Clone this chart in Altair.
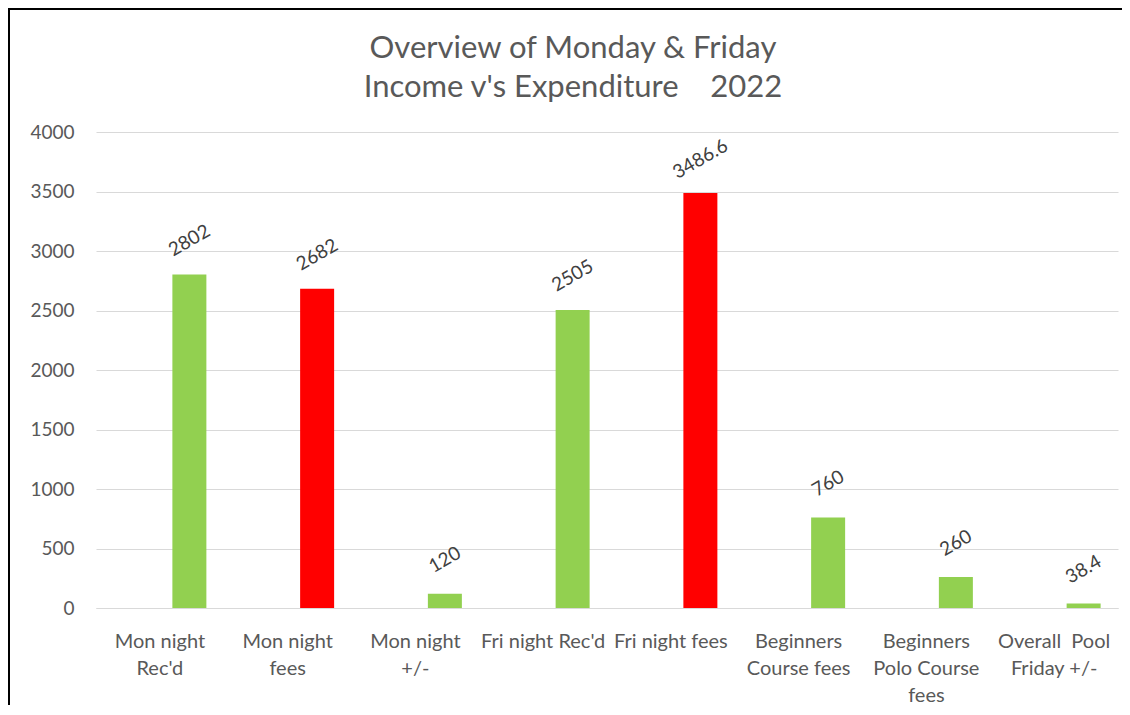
import json
import altair as alt
import pandas as pd

categories = ["Mon night Rec'd", "Mon night fees", "Mon night +/-", "Fri night Rec'd",
              "Fri night fees", "Beginners Course fees", "Beginners Polo Course fees",
              "Overall Pool Friday +/-"]
label_lines = [["Mon night", "Rec'd"], ["Mon night", "fees"], ["Mon night", "+/-"],
               ["Fri night Rec'd"], ["Fri night fees"], ["Beginners", "Course fees"],
               ["Beginners", "Polo Course", "fees"], ["Overall\u00a0\u00a0Pool", "Friday +/-"]]
values = [2802, 2682, 120, 2505, 3486.6, 760, 260, 38.4]
value_text = ["2802", "2682", "120", "2505", "3486.6", "760", "260", "38.4"]
kinds = ["Income", "Expenditure", "Income", "Income", "Expenditure", "Income", "Income", "Income"]
y_ticks = [0, 500, 1000, 1500, 2000, 2500, 3000, 3500, 4000]
title_lines = ["Overview of Monday & Friday",
               "Income v's Expenditure\u00a0\u00a0\u00a0\u00a02022"]

FONT = "Lato"
df = pd.DataFrame({"category": categories, "value": values, "label": value_text, "kind": kinds})

label_map = json.dumps(dict(zip(categories, label_lines)))

x_enc = alt.X("category:N", sort=categories, title=None,
              scale=alt.Scale(paddingInner=0, paddingOuter=0),
              axis=alt.Axis(labelAngle=0, ticks=False, domain=True, domainColor="#d9d9d9",
                            labelPadding=23, labelFontSize=20, labelColor="#595959", labelFont=FONT,
                            labelLineHeight=27, labelBaseline="top", labelOverlap=False,
                            labelLimit=200, labelExpr=label_map + "[datum.label]"))
y_enc = alt.Y("value:Q", title=None,
              scale=alt.Scale(domain=[0, 4000], nice=False),
              axis=alt.Axis(values=y_ticks, format="d", ticks=False, domain=False, labelPadding=22,
                            labelFontSize=19, labelColor="#595959", labelFont=FONT,
                            gridColor="#d9d9d9", gridWidth=1))

bars = alt.Chart(df).mark_bar(width=34, xOffset=29.5).encode(
    x=x_enc, y=y_enc,
    color=alt.Color("kind:N", scale=alt.Scale(domain=["Income", "Expenditure"],
                                              range=["#92D050", "#FF0000"]), legend=None))

texts = alt.Chart(df).mark_text(angle=330, align="center", baseline="middle", xOffset=29.5,
                                yOffset=-34, fontSize=19, color="#404040", font=FONT).encode(
    x=alt.X("category:N", sort=categories), y=alt.Y("value:Q"), text="label:N")

one = pd.DataFrame({"k": [0]})
border_left = alt.Chart(one).mark_rule(color="black", strokeWidth=2).encode(
    x=alt.value(-87), y=alt.value(-123), y2=alt.value(700))
border_top = alt.Chart(one).mark_rule(color="black", strokeWidth=2).encode(
    x=alt.value(-88), x2=alt.value(1200), y=alt.value(-123))

title = alt.Chart(one).mark_text(
    text=title_lines, fontSize=31, font=FONT, color="#595959", lineHeight=39,
    align="center", baseline="middle").encode(x=alt.value(477), y=alt.value(-83))

chart = alt.layer(border_left, border_top, title, bars, texts).properties(
    width=1022, height=476,
    autosize=alt.AutoSizeParams(type="none"),
    padding={"left": 88, "top": 124, "right": 4, "bottom": 97},
).configure_view(stroke=None)

chart.save("out.html", embed_options={"renderer": "svg", "actions": False})
